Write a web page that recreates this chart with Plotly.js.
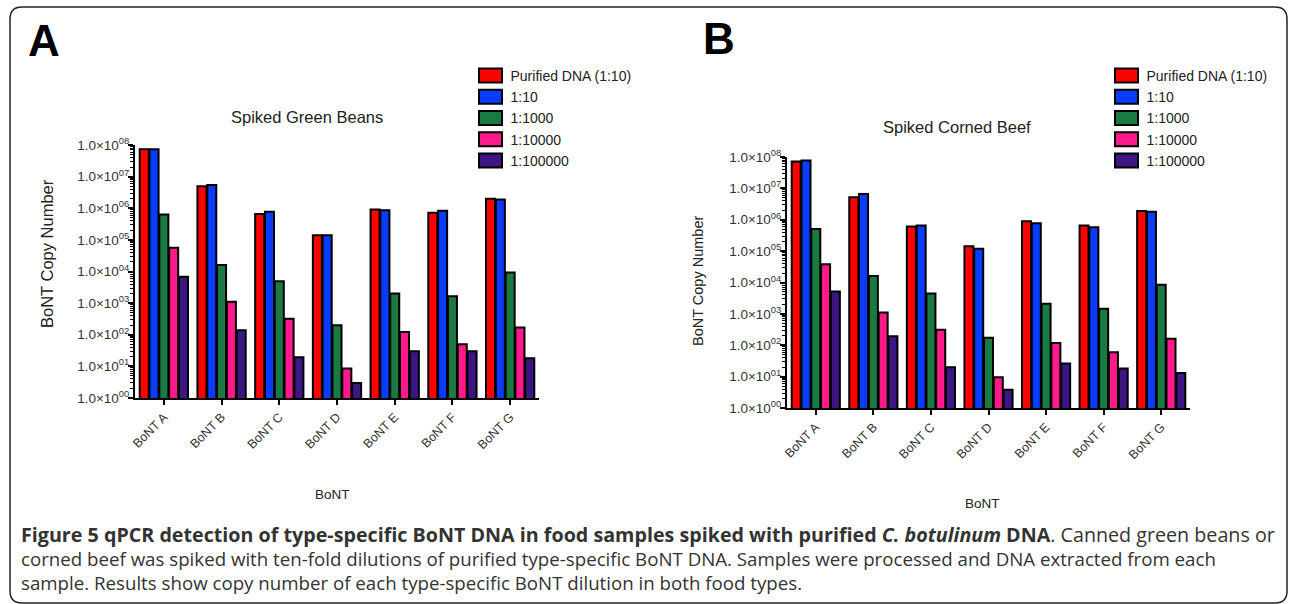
<!DOCTYPE html>
<html>
<head>
<meta charset="utf-8">
<script src="https://cdn.plot.ly/plotly-3.0.1.min.js"></script>
<style>html,body{margin:0;padding:0;background:#fff;}#chart{width:1290px;height:604px;}</style>
</head>
<body>
<div id="chart"></div>
<script>
// ---- data ----
const categories = ['BoNT A','BoNT B','BoNT C','BoNT D','BoNT E','BoNT F','BoNT G'];
const seriesNames = ['Purified DNA (1:10)','1:10','1:1000','1:10000','1:100000'];
const seriesColors = ['#ff0000','#0a3cff','#1b7a42','#ff1a8c','#3c1784'];

// Panel A: Spiked Green Beans
const beansPurified = [7.3e7, 5.0e6, 6.6e5, 1.4e5, 9.2e5, 7.2e5, 2.0e6];
const beans1to10    = [7.3e7, 5.4e6, 7.8e5, 1.4e5, 8.7e5, 8.3e5, 1.9e6];
const beans1to1000  = [6.3e5, 1.6e4, 4.9e3, 2.0e2, 2.0e3, 1.66e3, 9.3e3];
const beans1to1e4   = [5.6e4, 1.1e3, 3.2e2, 8.5, 1.23e2, 50, 1.7e2];
const beans1to1e5   = [6.8e3, 1.38e2, 19.5, 3.0, 30, 30, 18];

// Panel B: Spiked Corned Beef
const beefPurified = [7.2e7, 5.2e6, 6.1e5, 1.44e5, 8.9e5, 6.5e5, 1.9e6];
const beef1to10    = [7.8e7, 6.6e6, 6.6e5, 1.2e5, 7.8e5, 5.8e5, 1.8e6];
const beef1to1000  = [5.1e5, 1.6e4, 4.5e3, 1.74e2, 2.1e3, 1.45e3, 8.5e3];
const beef1to1e4   = [3.8e4, 1.1e3, 3.1e2, 9.5, 1.18e2, 60, 1.62e2];
const beef1to1e5   = [5.2e3, 1.92e2, 20, 3.8, 26, 18, 13];

const yTickVals = [1,10,100,1e3,1e4,1e5,1e6,1e7,1e8];
const yTickText = ['00','01','02','03','04','05','06','07','08'].map(e => '1.0×10<sup>' + e + '</sup>');

const panelTitles = ['Spiked Green Beans','Spiked Corned Beef'];
const panelLetters = ['A','B'];
const xTitle = 'BoNT';
const yTitle = 'BoNT Copy Number';
const captionLines = [
  '<b>Figure 5 qPCR detection of type-specific BoNT DNA in food samples spiked with purified <i>C. botulinum</i> DNA</b>. Canned green beans or',
  'corned beef was spiked with ten-fold dilutions of purified type-specific BoNT DNA. Samples were processed and DNA extracted from each',
  'sample. Results show copy number of each type-specific BoNT dilution in both food types.'
];

// ---- build ----
const W = 1290, H = 604;
const px = x => x / W;
const py = y => 1 - y / H;
const FONT = 'Liberation Sans, Arial, sans-serif';

const beans = [beansPurified, beans1to10, beans1to1000, beans1to1e4, beans1to1e5];
const beef  = [beefPurified, beef1to10, beef1to1000, beef1to1e4, beef1to1e5];

const traces = [];
[beans, beef].forEach((panel, p) => {
  panel.forEach((vals, i) => {
    traces.push({
      type: 'bar',
      x: categories,
      y: vals,
      name: seriesNames[i],
      xaxis: p === 0 ? 'x' : 'x2',
      yaxis: p === 0 ? 'y' : 'y2',
      legend: p === 0 ? 'legend' : 'legend2',
      marker: {color: seriesColors[i], line: {color: '#000', width: 2}},
      hoverinfo: 'x+y+name'
    });
  });
});

function xAxis(domain, anchor) {
  return {
    domain: domain, anchor: anchor, type: 'category',
    range: [-0.5, 6.5],
    showline: true, linewidth: 2, linecolor: '#000',
    ticks: 'outside', ticklen: 5, tickwidth: 2, tickcolor: '#000',
    tickangle: -45, tickfont: {family: FONT, size: 12.5, color: '#333'},
    showgrid: false, zeroline: false, fixedrange: true
  };
}
function yAxis(domain, anchor) {
  return {
    domain: domain, anchor: anchor, type: 'log', range: [0, 8],
    tickmode: 'array', tickvals: yTickVals, ticktext: yTickText,
    showline: true, linewidth: 2, linecolor: '#000',
    ticks: 'outside', ticklen: 5, tickwidth: 1.5, tickcolor: '#000',
    ticklabelstandoff: -4,
    minor: {ticks: 'outside', ticklen: 3.5, tickwidth: 1, tickcolor: '#000', dtick: 'D1'},
    tickfont: {family: FONT, size: 13.5, color: '#333'},
    showgrid: false, zeroline: false, fixedrange: true
  };
}

// frame with rounded corners (pixel coords -> paper)
const L = 10, R = 1287, T = 7, B = 603, r = 12;
const framePath = [
  'M', px(L), py(T + r),
  'Q', px(L), py(T), px(L + r), py(T),
  'L', px(R - r), py(T),
  'Q', px(R), py(T), px(R), py(T + r),
  'L', px(R), py(B - r),
  'Q', px(R), py(B), px(R - r), py(B),
  'L', px(L + r), py(B),
  'Q', px(L), py(B), px(L), py(B - r),
  'Z'
].join(' ');

const base = {xref: 'paper', yref: 'paper', showarrow: false, xanchor: 'center', yanchor: 'middle'};
const annotations = [
  // subplot titles
  Object.assign({text: panelTitles[0], x: px(307), y: py(117), font: {family: FONT, size: 16.5, color: '#222'}}, base),
  Object.assign({text: panelTitles[1], x: px(957), y: py(127), font: {family: FONT, size: 16.5, color: '#222'}}, base),
  // panel letters
  Object.assign({}, base, {text: '<b>' + panelLetters[0] + '</b>', x: px(26), y: py(40), xanchor: 'left', font: {family: FONT, size: 44, color: '#000'}}),
  Object.assign({}, base, {text: '<b>' + panelLetters[1] + '</b>', x: px(701), y: py(39), xanchor: 'left', font: {family: FONT, size: 44, color: '#000'}}),
  // axis titles
  Object.assign({}, base, {text: xTitle, x: px(332), y: py(494), font: {family: FONT, size: 13.5, color: '#222'}}),
  Object.assign({}, base, {text: xTitle, x: px(982), y: py(503), font: {family: FONT, size: 13.5, color: '#222'}}),
  Object.assign({}, base, {text: yTitle, x: px(47), y: py(254), textangle: -90, font: {family: FONT, size: 16.5, color: '#222'}}),
  Object.assign({}, base, {text: yTitle, x: px(698), y: py(281), textangle: -90, font: {family: FONT, size: 14.5, color: '#222'}})
];

const captionY = [534, 558, 582];
const captionSize = [19.7, 18.7, 18.7];
captionLines.forEach((t, i) => annotations.push(Object.assign({}, base, {
  text: t, x: px(19), y: py(captionY[i]), xanchor: 'left', align: 'left',
  font: {family: 'Open Sans, sans-serif', size: captionSize[i], color: '#333'}
})));

const legendBase = {
  xanchor: 'left', yanchor: 'top', bgcolor: 'rgba(0,0,0,0)',
  font: {family: FONT, size: 14, color: '#222'},
  tracegroupgap: 0, itemclick: false, itemdoubleclick: false
};

const layout = {
  width: W, height: H,
  margin: {l: 0, r: 0, t: 0, b: 0},
  paper_bgcolor: '#fff', plot_bgcolor: '#fff',
  showlegend: true,
  barmode: 'group', bargap: 0.15, bargroupgap: 0.08,
  xaxis: xAxis([px(135), px(539)], 'y'),
  yaxis: yAxis([py(398), py(145)], 'x'),
  xaxis2: xAxis([px(787), px(1190)], 'y2'),
  yaxis2: yAxis([py(408), py(157)], 'x2'),
  legend: Object.assign({x: px(470.5), y: py(60)}, legendBase),
  legend2: Object.assign({x: px(1106.5), y: py(60)}, legendBase),
  shapes: [{type: 'path', xref: 'paper', yref: 'paper', path: framePath,
    line: {color: '#222', width: 1.5}, fillcolor: 'rgba(0,0,0,0)', layer: 'below'}],
  annotations: annotations
};

Plotly.newPlot('chart', traces, layout, {displayModeBar: false}).then(gd => {
  // widen legend swatches to the reference's rectangular shape
  gd.querySelectorAll('.legendpoints path').forEach(p => p.setAttribute('d', 'M11.5,7H-11.5V-7H11.5Z'));
});
</script>
</body>
</html>
